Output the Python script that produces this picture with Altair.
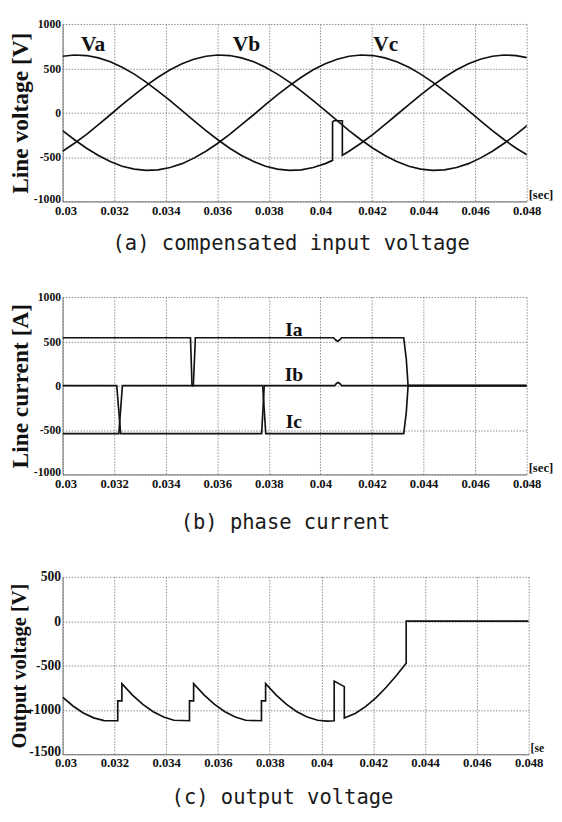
import altair as alt
import pandas as pd

SERIF = "Liberation Serif"
CAP_FONT = "DejaVu Sans Mono"
INK = "#111111"

X_TICKS = [0.03, 0.032, 0.034, 0.036, 0.038, 0.04, 0.042, 0.044, 0.046, 0.048]

# ---------------- (a) compensated input voltage ----------------
T_A = [0.03000, 0.03046, 0.03093, 0.03139, 0.03185, 0.03231, 0.03278, 0.03324,
       0.03370, 0.03417, 0.03463, 0.03509, 0.03556, 0.03602, 0.03648, 0.03694,
       0.03741, 0.03787, 0.03833, 0.03880, 0.03926, 0.03972, 0.04019, 0.04065,
       0.04111, 0.04157, 0.04204, 0.04250, 0.04296, 0.04343, 0.04389, 0.04435,
       0.04481, 0.04528, 0.04574, 0.04620, 0.04667, 0.04713, 0.04759, 0.04806]
VA = [636, 650, 644, 618, 574, 512, 435, 344, 244, 135, 23, -90, -201, -305, -400,
      -483, -551, -603, -636, -650, -644, -618, -574, -512, -435, -344, -244, -135,
      -23, 90, 201, 305, 400, 483, 551, 603, 636, 650, 644, 618]
VB = [-435, -344, -244, -135, -23, 90, 201, 305, 400, 483, 551, 603, 636, 650, 644,
      618, 574, 512, 435, 344, 244, 135, 23, -90, -201, -305, -400, -483, -551, -603,
      -636, -650, -644, -618, -574, -512, -435, -344, -244, -135]
VC = [-201, -305, -400, -483, -551, -603, -636, -650, -644, -618, -574, -512, -435,
      -344, -244, -135, -23, 90, 201, 305, 400, 483, 551, 603, 636, 650, 644, 618,
      574, 512, 435, 344, 244, 135, 23, -90, -201, -305, -400, -483]
# glitch on Va (replaces the sample at 0.04065)
VA_GLITCH_T = [0.04047, 0.04047, 0.04052, 0.04085, 0.04085]
VA_GLITCH_V = [-537, -105, -91, -91, -480]

A_LABELS = ["Va", "Vb", "Vc"]
A_LABEL_T = [0.03118, 0.03713, 0.04253]
A_LABEL_V = [690, 690, 690]

# ---------------- (b) phase current ----------------
IA_T = [0.03, 0.03218, 0.03232, 0.03507, 0.03515, 0.04051, 0.04059, 0.04066,
        0.04074, 0.04082, 0.04323, 0.04333, 0.04340, 0.048]
IA_V = [-540, -540, 0, 0, 540, 540, 515, 502, 515, 540, 540, 300, 0, 0]
IB_T = [0.03, 0.03210, 0.03225, 0.03772, 0.03782, 0.04055, 0.04062, 0.04068,
        0.04075, 0.04082, 0.048]
IB_V = [0, 0, -540, -540, 0, 0, 25, 36, 25, 0, 0]
IC_T = [0.03, 0.03496, 0.03502, 0.03776, 0.03788, 0.04323, 0.04333, 0.04340, 0.048]
IC_V = [540, 540, 0, 0, -540, -540, -300, 0, 0]

B_LABELS = ["Ia", "Ib", "Ic"]
B_LABEL_T = [0.03897, 0.03897, 0.03897]
B_LABEL_V = [560, 56, -480]

# ---------------- (c) output voltage ----------------
VO_T = [0.0300, 0.0304, 0.0308, 0.0312, 0.0316, 0.03213,
        0.03213, 0.03229, 0.03229,
        0.0327, 0.0331, 0.0335, 0.0339, 0.0343, 0.0349,
        0.0349, 0.03506, 0.03506,
        0.03547, 0.03587, 0.03627, 0.03667, 0.03707, 0.03768,
        0.03768, 0.03784, 0.03784,
        0.03825, 0.03865, 0.03905, 0.03945, 0.03985, 0.04022, 0.04049,
        0.04049, 0.04088, 0.04088,
        0.04130, 0.04170, 0.04210, 0.04250, 0.04290, 0.04327,
        0.04327, 0.048]
VO_V = [-855, -956, -1035, -1090, -1121, -1122,
        -898, -898, -705,
        -833, -938, -1021, -1081, -1117, -1122,
        -898, -898, -705,
        -833, -938, -1021, -1081, -1117, -1122,
        -898, -898, -705,
        -833, -938, -1021, -1081, -1117, -1127, -1122,
        -676, -738, -1092,
        -1040, -963, -864, -745, -610, -475,
        0, 0]


def series_df(named):
    rows = []
    for name, ts, vs in named:
        for i, (t, v) in enumerate(zip(ts, vs)):
            rows.append({"s": name, "i": i, "t": t, "v": v})
    return pd.DataFrame(rows)


va_t = T_A[:23] + VA_GLITCH_T + T_A[24:]
va_v = VA[:23] + VA_GLITCH_V + VA[24:]

df_a = series_df([("Va", va_t, va_v), ("Vb", T_A, VB), ("Vc", T_A, VC)])
df_b = series_df([("Ia", IA_T, IA_V), ("Ib", IB_T, IB_V), ("Ic", IC_T, IC_V)])
df_c = series_df([("Vo", VO_T, VO_V)])

lab_a = pd.DataFrame({"label": A_LABELS, "t": A_LABEL_T, "v": A_LABEL_V})
lab_b = pd.DataFrame({"label": B_LABELS, "t": B_LABEL_T, "v": B_LABEL_V})


def panel(df, labels, ytitle, ydomain, yticks, caption, w, h, ylab_size,
          cap_x, cap_y, title_x, title_size, lab_size, sec_size=13,
          sec_limit=None):
    xs = alt.Scale(domain=[0.03, 0.048], nice=False, zero=False)
    ys = alt.Scale(domain=ydomain, nice=False, zero=False)
    common = dict(
        grid=True, ticks=False, gridColor="#8c8c8c", gridDash=[1.5, 1.5],
        gridWidth=1, domainColor="#6e6e6e", domainWidth=1,
        labelFont=SERIF, labelFontWeight="bold", labelColor=INK,
        labelFlush=False, labelOverlap=False, labelExpr="'' + datum.value",
    )
    xaxis = alt.Axis(
        values=X_TICKS, labelFontSize=13, labelPadding=3,
        labelOffset={"condition": {"test": "datum.value == 0.03", "value": 3},
                     "value": 0},
        title=caption, titleFont=CAP_FONT, titleFontWeight="normal",
        titleFontSize=21, titleColor="#1a1a1a", titleX=cap_x, titleY=cap_y,
        titleBaseline="middle", titleAlign="center", **common)
    yaxis = alt.Axis(
        values=yticks, labelFontSize=ylab_size, labelPadding=2,
        labelOffset={"condition": {"test": "datum.value == %d" % ydomain[0],
                                   "value": -3}, "value": 0},
        title=ytitle, titleFont=SERIF, titleFontWeight="bold",
        titleFontSize=title_size, titleColor=INK, titleX=title_x, titleY=h / 2,
        titleAngle=270, titleBaseline="bottom", titleAlign="center", **common)

    enc_x = alt.X("t:Q", scale=xs, axis=xaxis)
    enc_y = alt.Y("v:Q", scale=ys, axis=yaxis)

    lines = alt.Chart(df).mark_line(color=INK, strokeWidth=1.7, clip=True).encode(
        x=enc_x, y=enc_y, detail="s:N", order="i:Q",
    )
    layers = [lines]
    if labels is not None:
        layers.append(
            alt.Chart(labels).mark_text(
                font=SERIF, fontWeight="bold", fontSize=lab_size, color=INK,
                align="center", baseline="alphabetic",
            ).encode(x=enc_x, y=enc_y, text="label:N")
        )
    sec_kwargs = dict(font=SERIF, fontWeight="bold", fontSize=sec_size, color=INK,
                      align="left", baseline="bottom")
    if sec_limit is not None:
        sec_kwargs.update(limit=sec_limit, ellipsis="\u200b")
    sec = alt.Chart(pd.DataFrame({"u": ["[sec]"]})).mark_text(**sec_kwargs).encode(
        x=alt.value(w + 2), y=alt.value(h + 1), text="u:N")
    layers.append(sec)
    return alt.layer(*layers).properties(width=w, height=h)


pa = panel(df_a, lab_a, "Line voltage [V]", [-1000, 1000],
           [-1000, -500, 0, 500, 1000], "(a) compensated input voltage",
           476, 182, 12, 234, 43, -31, 24, 22)
pb = panel(df_b, lab_b, "Line current [A]", [-1000, 1000],
           [-1000, -500, 0, 500, 1000], "(b) phase current",
           476, 182, 12, 228, 49, -31, 24, 20)
pc = panel(df_c, None, "Output voltage [V]", [-1500, 500],
           [-1500, -1000, -500, 0, 500], "(c) output voltage",
           478, 182, 14, 225, 45, -34, 21, 20, sec_size=12, sec_limit=19)

chart = alt.vconcat(pa, pb, pc, spacing=39).properties(
    padding={"left": 0, "top": 0, "right": 0, "bottom": 0},
    background="white",
).configure_view(stroke=None)

chart.save("out.html", embed_options={"renderer": "svg", "actions": False})
